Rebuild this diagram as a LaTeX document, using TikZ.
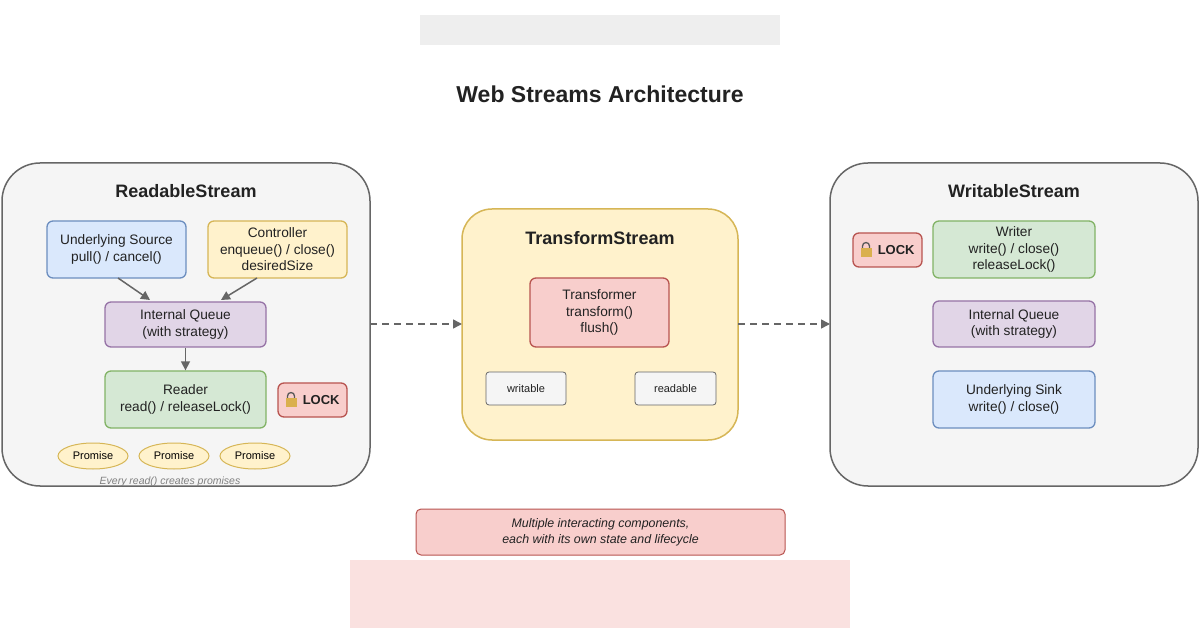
\documentclass[tikz,border=0pt]{standalone}
\usepackage{fontspec}
\setmainfont{Liberation Sans}
\usetikzlibrary{arrows.meta,shapes.geometric}
\definecolor{panelf}{HTML}{F5F5F5}\definecolor{panels}{HTML}{666666}
\definecolor{bluef}{HTML}{DAE8FC}\definecolor{blues}{HTML}{6C8EBF}
\definecolor{yelf}{HTML}{FFF2CC}\definecolor{yels}{HTML}{D6B656}
\definecolor{purf}{HTML}{E1D5E7}\definecolor{purs}{HTML}{9673A6}
\definecolor{grnf}{HTML}{D5E8D4}\definecolor{grns}{HTML}{82B366}
\definecolor{redf}{HTML}{F8CECC}\definecolor{reds}{HTML}{B85450}
\definecolor{txt}{HTML}{222222}
\begin{document}
\begin{tikzpicture}[x=1pt,y=-1pt,
 panel/.style={draw=panels,line width=1.5pt,fill=panelf,rounded corners=38pt},
 box/.style={rectangle,rounded corners=6pt,line width=1.3pt,align=center,font=\fontsize{13.7}{16.5}\selectfont,text=txt,inner sep=0pt},
 bl/.style={box,fill=bluef,draw=blues},
 ye/.style={box,fill=yelf,draw=yels},
 pu/.style={box,fill=purf,draw=purs},
 gr/.style={box,fill=grnf,draw=grns},
 rd/.style={box,fill=redf,draw=reds},
 gy/.style={box,fill=panelf,draw=panels,line width=0.8pt,rounded corners=3pt,font=\fontsize{11}{13}\selectfont},
 prom/.style={ellipse,draw=yels,fill=yelf,line width=1pt,minimum width=70pt,minimum height=26pt,inner sep=0pt,font=\fontsize{11}{13}\selectfont},
 ttl/.style={font=\bfseries\fontsize{18}{20}\selectfont,text=txt},
 arr/.style={draw=panels,line width=1.5pt,-{Triangle[length=9pt,width=9pt]}},
 darr/.style={draw=panels,line width=1.5pt,dash pattern=on 7pt off 5pt,-{Triangle[length=9pt,width=9pt]}},
 lk/.style={rd,font=\bfseries\fontsize{13}{15}\selectfont}]
\useasboundingbox[fill=white] (0,0) rectangle (1200,628);
% blurred placeholders
\fill[gray!25,opacity=0.5] (420,15) rectangle (780,45);
\fill[redf,opacity=0.6] (350,560) rectangle (850,628);
\node[font=\bfseries\fontsize{23}{25}\selectfont,text=txt] (title) at (600,94) {Web Streams Architecture};
% panels
\draw[panel] (2,163) rectangle (370,486);
\draw[panel] (830,163) rectangle (1198,486);
\draw[panel,fill=yelf,draw=yels,rounded corners=30pt] (462,209) rectangle (738,440);
\coordinate (rsR) at (370,324); \coordinate (tsL) at (462,324);
\coordinate (tsR) at (738,324); \coordinate (wsL) at (830,324);
\node[ttl] (rst) at (186,191) {ReadableStream};
\node[ttl] (wst) at (1014,191) {WritableStream};
\node[ttl] (tst) at (600,238) {TransformStream};
% readable
\node[bl,minimum width=139pt,minimum height=57pt] (src) at (116.5,249.5) {Underlying Source\\pull() / cancel()};
\node[ye,minimum width=139pt,minimum height=57pt] (ctl) at (277.5,249.5) {Controller\\enqueue() / close()\\desiredSize};
\node[pu,minimum width=161pt,minimum height=45pt] (q) at (185.5,324.5) {Internal Queue\\(with strategy)};
\node[gr,minimum width=161pt,minimum height=57pt] (rdr) at (185.5,399.5) {Reader\\read() / releaseLock()};
\node[lk,minimum width=69pt,minimum height=34pt] (lock1) at (312.5,400) {\phantom{XX}LOCK};
\node[prom] (p1) at (93,456) {Promise};
\node[prom] (p2) at (174,456) {Promise};
\node[prom] (p3) at (255,456) {Promise};
\node[font=\itshape\fontsize{10.5}{12}\selectfont,text=gray] (note1) at (170,482) {Every read() creates promises};
\draw[arr] (118,278) -- (150,300);
\draw[arr] (257,278) -- (221,300);
\draw[arr] (q) -- (rdr);
% transform
\node[rd,minimum width=139pt,minimum height=69pt] (tf) at (599.5,312.5) {Transformer\\transform()\\flush()};
\node[gy,minimum width=80pt,minimum height=33pt] (wr) at (526,388.5) {writable};
\node[gy,minimum width=81pt,minimum height=33pt] (rd) at (675.5,388.5) {readable};
% writable
\node[lk,minimum width=69pt,minimum height=34pt] (lock2) at (887.5,250) {\phantom{XX}LOCK};
\node[gr,minimum width=162pt,minimum height=57pt] (wtr) at (1014,249.5) {Writer\\write() / close()\\releaseLock()};
\node[pu,minimum width=162pt,minimum height=46pt] (q2) at (1014,324) {Internal Queue\\(with strategy)};
\node[bl,minimum width=162pt,minimum height=57pt] (snk) at (1014,399.5) {Underlying Sink\\write() / close()};
% padlocks
\foreach \a/\b in {291/400,866/250}{
 \begin{scope}[shift={(\a,\b)}]
 \draw[gray!70!black,line width=1.3pt] (-3.5,-2) -- (-3.5,-4) arc[start angle=180,end angle=360,radius=3.5] -- (3.5,-2);
 \fill[yels!90!orange] (-5.5,-2) rectangle (5.5,7);
 \end{scope}}
\draw[darr] (rsR) -- (tsL);
\draw[darr] (tsR) -- (wsL);
\node[rd,minimum width=369pt,minimum height=46pt,rounded corners=5pt,line width=1pt,font=\itshape\fontsize{12.4}{16}\selectfont] (bn) at (600.5,532) {Multiple interacting components,\\each with its own state and lifecycle};
\end{tikzpicture}
\end{document}
